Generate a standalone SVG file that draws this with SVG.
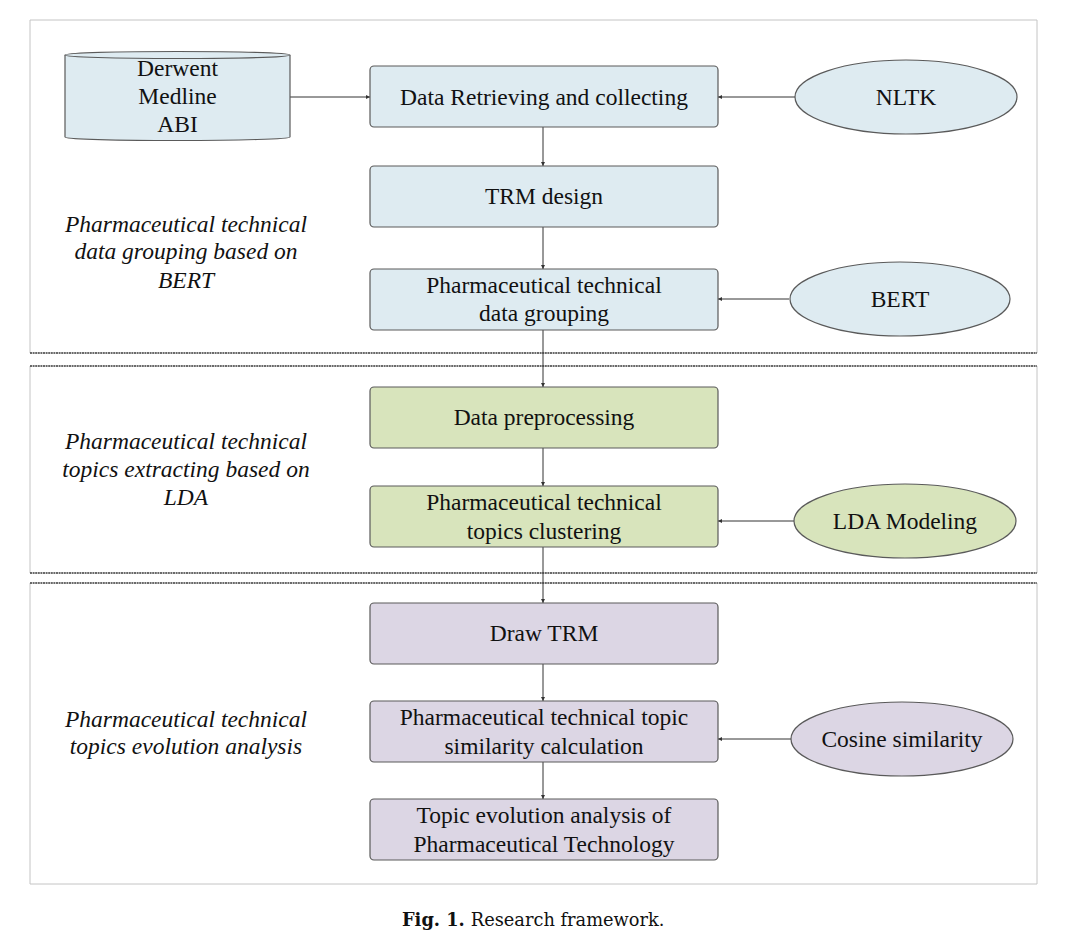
<svg xmlns="http://www.w3.org/2000/svg" width="1080" height="944" viewBox="0 0 1080 944">
<style>
.frame{fill:none;stroke:#c4c4c4;stroke-width:1}
.sep{stroke:#3a3a3a;stroke-width:1.3;stroke-dasharray:2 0.6}
.box{stroke:#5a5a5a;stroke-width:1.2}
.blue{fill:#deebf1}
.green{fill:#d8e4bc}
.purple{fill:#dcd6e4}
.t{font-family:"Liberation Serif","Times New Roman",serif;font-size:23.5px;fill:#111;text-anchor:middle}
.it{font-family:"Liberation Serif","Times New Roman",serif;font-size:23.5px;font-style:italic;fill:#111;text-anchor:middle}
.cap{font-family:"DejaVu Serif","Liberation Serif",serif;font-size:17.8px;fill:#111}
.con{stroke:#333;stroke-width:1;fill:none;marker-end:url(#ah)}
</style>
<defs>
<marker id="ah" viewBox="0 0 6 6" refX="6" refY="3" markerWidth="4" markerHeight="4" orient="auto" markerUnits="userSpaceOnUse">
<path d="M0,0 L6,3 L0,6 z" fill="#333"/>
</marker>
</defs>
<rect width="1080" height="944" fill="#fff"/>
<g id="frames">
<path class="frame" d="M30,353 V20 H1037 V353"/>
<path class="frame" d="M30,366 V573 M1037,366 V573"/>
<path class="frame" d="M30,583 V884 H1037 V583"/>
<line class="sep" x1="30" y1="353" x2="1037" y2="353"/>
<line class="sep" x1="30" y1="366" x2="1037" y2="366"/>
<line class="sep" x1="30" y1="573" x2="1037" y2="573"/>
<line class="sep" x1="30" y1="583" x2="1037" y2="583"/>
</g>
<g id="section-labels">
<text class="it" x="186" y="232">Pharmaceutical technical</text>
<text class="it" x="186" y="259">data grouping based on</text>
<text class="it" x="186" y="288">BERT</text>
<text class="it" x="186" y="449">Pharmaceutical technical</text>
<text class="it" x="186" y="477">topics extracting based on</text>
<text class="it" x="186" y="505">LDA</text>
<text class="it" x="186" y="727">Pharmaceutical technical</text>
<text class="it" x="186" y="754">topics evolution analysis</text>
</g>
<g id="connectors">
<line class="con" x1="290" y1="97" x2="370" y2="97"/>
<line class="con" x1="795" y1="97" x2="718" y2="97"/>
<line class="con" x1="543" y1="127" x2="543" y2="166"/>
<line class="con" x1="543" y1="227" x2="543" y2="269"/>
<line class="con" x1="789" y1="299" x2="718" y2="299"/>
<line class="con" x1="543" y1="330" x2="543" y2="387"/>
<line class="con" x1="543" y1="448" x2="543" y2="486"/>
<line class="con" x1="794" y1="521" x2="718" y2="521"/>
<line class="con" x1="543" y1="547" x2="543" y2="603"/>
<line class="con" x1="543" y1="664" x2="543" y2="701"/>
<line class="con" x1="791" y1="739" x2="718" y2="739"/>
<line class="con" x1="543" y1="762" x2="543" y2="799"/>
</g>
<g id="db">
<path class="box blue" d="M65,55 V137 A112.5,3.5 0 0 0 290,137 V55"/>
<ellipse class="box blue" cx="177.5" cy="55" rx="112.5" ry="3.5"/>
<text class="t" x="177.5" y="76">Derwent</text>
<text class="t" x="177.5" y="104">Medline</text>
<text class="t" x="177.5" y="132">ABI</text>
</g>
<g id="retrieve">
<rect class="box blue" x="370" y="66" width="348" height="61" rx="4"/>
<text class="t" x="544" y="105">Data Retrieving and collecting</text>
</g>
<g id="nltk">
<ellipse class="box blue" cx="906" cy="97" rx="111" ry="37"/>
<text class="t" x="906" y="105">NLTK</text>
</g>
<g id="trm-design">
<rect class="box blue" x="370" y="166" width="348" height="61" rx="4"/>
<text class="t" x="544" y="204">TRM design</text>
</g>
<g id="grouping">
<rect class="box blue" x="370" y="269" width="348" height="61" rx="4"/>
<text class="t" x="544" y="293">Pharmaceutical technical</text>
<text class="t" x="544" y="321">data grouping</text>
</g>
<g id="bert">
<ellipse class="box blue" cx="900" cy="299" rx="110" ry="37"/>
<text class="t" x="900" y="307">BERT</text>
</g>
<g id="preprocessing">
<rect class="box green" x="370" y="387" width="348" height="61" rx="4"/>
<text class="t" x="544" y="425">Data preprocessing</text>
</g>
<g id="clustering">
<rect class="box green" x="370" y="486" width="348" height="61" rx="4"/>
<text class="t" x="544" y="510">Pharmaceutical technical</text>
<text class="t" x="544" y="539">topics clustering</text>
</g>
<g id="lda">
<ellipse class="box green" cx="905" cy="521" rx="111" ry="37"/>
<text class="t" x="905" y="529">LDA Modeling</text>
</g>
<g id="draw-trm">
<rect class="box purple" x="370" y="603" width="348" height="61" rx="4"/>
<text class="t" x="544" y="641">Draw TRM</text>
</g>
<g id="similarity">
<rect class="box purple" x="370" y="701" width="348" height="61" rx="4"/>
<text class="t" x="544" y="725">Pharmaceutical technical topic</text>
<text class="t" x="544" y="754">similarity calculation</text>
</g>
<g id="cosine">
<ellipse class="box purple" cx="902" cy="739" rx="111" ry="37"/>
<text class="t" x="902" y="747">Cosine similarity</text>
</g>
<g id="evolution">
<rect class="box purple" x="370" y="799" width="348" height="61" rx="4"/>
<text class="t" x="544" y="823">Topic evolution analysis of</text>
<text class="t" x="544" y="852">Pharmaceutical Technology</text>
</g>
<g id="caption">
<text class="cap" x="402" y="926"><tspan font-weight="bold">Fig. 1.</tspan><tspan dx="6">Research framework.</tspan></text>
</g>
</svg>
